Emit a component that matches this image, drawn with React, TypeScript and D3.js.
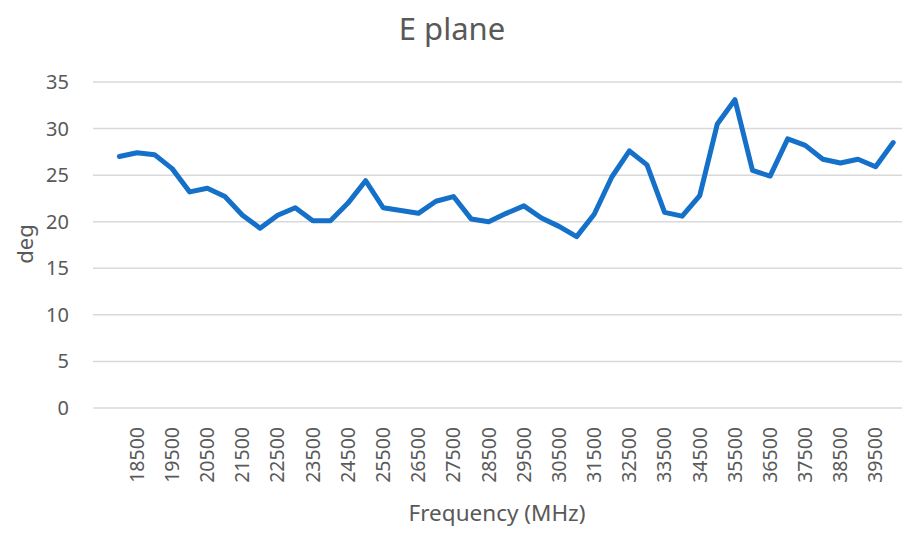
import React from 'react'
import * as d3 from 'd3'

const width = 924
const height = 557
const lineColor = '#1470c8'
const gridColor = '#d9d9d9'
const textColor = '#595959'
const font = '"Noto Sans", "Open Sans", sans-serif'

// frequencies in MHz
const frequencies = [
  18000, 18500, 19000, 19500, 20000, 20500, 21000, 21500, 22000, 22500,
  23000, 23500, 24000, 24500, 25000, 25500, 26000, 26500, 27000, 27500,
  28000, 28500, 29000, 29500, 30000, 30500, 31000, 31500, 32000, 32500,
  33000, 33500, 34000, 34500, 35000, 35500, 36000, 36500, 37000, 37500,
  38000, 38500, 39000, 39500, 40000,
]

// beam width (deg)
const degValues = [
  27.0, 27.4, 27.2, 25.7, 23.2, 23.6, 22.7, 20.7, 19.3, 20.7,
  21.5, 20.1, 20.1, 22.0, 24.4, 21.5, 21.2, 20.9, 22.2, 22.7,
  20.3, 20.0, 20.9, 21.7, 20.4, 19.5, 18.4, 20.8, 24.8, 27.6,
  26.1, 21.0, 20.6, 22.8, 30.5, 33.1, 25.5, 24.9, 28.9, 28.2,
  26.7, 26.3, 26.7, 25.9, 28.5,
]

const yTicks = [0, 5, 10, 15, 20, 25, 30, 35]

// the sheet has one blank category in front of the data
const categories = ['', ...frequencies.map(String)]

const margin = { top: 82, right: 22, bottom: 149, left: 93 }

const x = d3
  .scaleBand<string>()
  .domain(categories)
  .range([margin.left, width - margin.right])

const y = d3
  .scaleLinear()
  .domain([0, 35])
  .range([height - margin.bottom, margin.top])

const cx = (c: string) => (x(c) as number) + x.bandwidth() / 2

const line = d3
  .line<number>()
  .x((d, i) => cx(String(frequencies[i])))
  .y(d => y(d))

const App = () => {
  const x0 = margin.left
  const x1 = width - margin.right
  return (
    <svg
      width={width}
      height={height}
      style={{ position: 'absolute', left: 0, top: 0, background: '#fff' }}
      fontFamily={font}
    >
      <text x={452} y={40} textAnchor="middle" fontSize={31} fill={textColor}>
        E plane
      </text>

      {yTicks.map(t => (
        <g key={t}>
          <line x1={x0} x2={x1} y1={y(t)} y2={y(t)} stroke={gridColor} strokeWidth={1.5} />
          <text x={69} y={y(t)} dy="0.35em" textAnchor="end" fontSize={20} fill={textColor}>
            {t}
          </text>
        </g>
      ))}

      {categories.map((c, i) =>
        i % 2 === 0 && c !== '' ? (
          <text
            key={c}
            transform={`translate(${cx(c)},427) rotate(-90)`}
            dy="0.35em"
            textAnchor="end"
            fontSize={19.5}
            fill={textColor}
          >
            {c}
          </text>
        ) : null
      )}

      <path
        d={line(degValues) as string}
        fill="none"
        stroke={lineColor}
        strokeWidth={5}
        strokeLinejoin="round"
        strokeLinecap="round"
      />

      <text
        transform={`translate(25,244) rotate(-90)`}
        dy="0.35em"
        textAnchor="middle"
        fontSize={22}
        fill={textColor}
      >
        deg
      </text>
      <text x={497} y={521} textAnchor="middle" fontSize={22.5} fill={textColor}>
        Frequency (MHz)
      </text>
    </svg>
  )
}

export default App
